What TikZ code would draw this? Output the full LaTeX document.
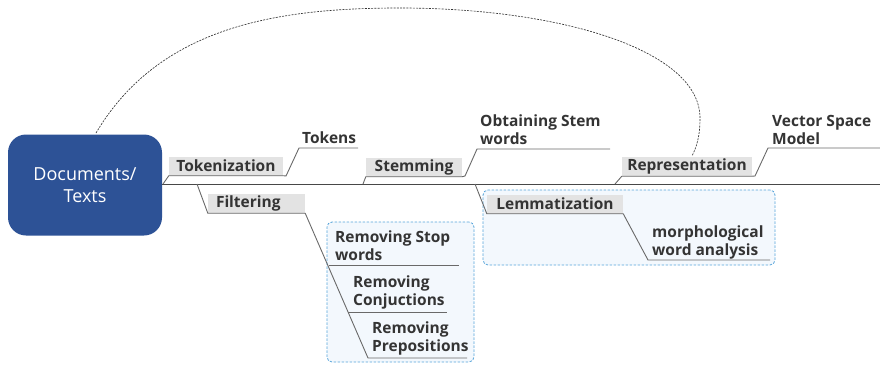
\documentclass[tikz,border=0pt]{standalone}
\usepackage{fontspec}
\setmainfont{Open Sans}
\definecolor{ink}{RGB}{52,52,52}
\definecolor{rootblue}{RGB}{45,82,150}
\definecolor{tagfill}{RGB}{227,227,227}
\definecolor{linegray}{RGB}{105,105,105}
\definecolor{grpblue}{RGB}{86,164,218}
\definecolor{grpfill}{RGB}{243,248,253}
\begin{document}
\begin{tikzpicture}[x=1pt,y=-1pt,
  lbl/.style={font=\fontsize{15.5}{18}\selectfont\bfseries, text=ink, inner sep=0pt, anchor=base west},
  tag/.style={fill=tagfill, font=\fontsize{15.5}{18}\selectfont\bfseries, text=ink,
              inner sep=0pt, minimum height=19pt},
  branch/.style={draw=linegray, line width=0.9pt},
  mainline/.style={draw=ink!90, line width=1pt},
  grp/.style={draw=grpblue, fill=grpfill, dashed, dash pattern=on 2.5pt off 1.5pt,
              rounded corners=5pt, line width=0.8pt, inner sep=0pt},
  rootbox/.style={fill=rootblue, rounded corners=18pt, text=white, align=center,
              font=\fontsize{18}{22}\selectfont, inner sep=0pt,
              minimum width=154pt, minimum height=101pt},
  relation/.style={draw=ink, line width=0.65pt, dash pattern=on 2pt off 1.2pt}]
\useasboundingbox (0,0) rectangle (880,365);

% dashed group frames
\node[grp, minimum width=147pt, minimum height=140pt] (fgrp) at (400.5,292) {};
\node[grp, minimum width=292pt, minimum height=75pt] (lgrp) at (629,227.5) {};

% central topic
\node[rootbox] (docs) at (85,185) {Documents/\\Texts};

% main spine
\coordinate (spineR) at (880,184);
\draw[mainline] (docs.east |- spineR) -- (spineR);

% branch labels
\node[tag, minimum width=114pt] (tok)  at (226,166)   {Tokenization};
\node[tag, text width=81pt, inner xsep=8pt, align=left] (filt) at (256.5,203.5) {Filtering};
\node[tag, minimum width=96pt]  (stem) at (414,167)   {Stemming};
\node[tag, minimum width=136pt] (lem)  at (555,204)   {Lemmatization};
\node[tag, minimum width=130pt] (rep)  at (687,166.5) {Representation};

% leaf texts
\node[lbl] (tokens) at (302,143) {Tokens};
\node[lbl] (obt1) at (480,126) {Obtaining Stem};
\node[lbl] (obt2) at (480,144) {words};
\node[lbl] (vsm1) at (772,126) {Vector Space};
\node[lbl] (vsm2) at (772,144) {Model};
\node[lbl] (rsw1) at (335,242) {Removing Stop};
\node[lbl] (rsw2) at (335,260) {words};
\node[lbl] (rc1)  at (353,287) {Removing};
\node[lbl] (rc2)  at (353,305) {Conjuctions};
\node[lbl] (rp1)  at (372,333) {Removing};
\node[lbl] (rp2)  at (372,351) {Prepositions};
\node[lbl] (mw1)  at (652,237) {morphological};
\node[lbl] (mw2)  at (652,255) {word analysis};

% Tokenization -> Tokens
\coordinate (tokA) at (163,184);
\coordinate (tokB) at (286,176);
\coordinate (tokC) at (299,148);
\coordinate (tokD) at (358,148);
\draw[branch] (tokA) -- (tok.south west) -- (tok.south east) -- (tokB) -- (tokC) -- (tokD);

% Filtering -> three removal steps
\coordinate (filA) at (197,184);
\coordinate (filC) at (368,358);
\coordinate (swS)  at (328.7,265);
\coordinate (swE)  at (459,265);
\coordinate (cjS)  at (348,312);
\coordinate (cjE)  at (447,312);
\coordinate (ppE)  at (467,358);
\draw[branch] (filA) -- (filt.south west) -- (filt.south east) -- (filC) -- (ppE);
\draw[branch] (swS) -- (swE);
\draw[branch] (cjS) -- (cjE);

% Stemming -> Obtaining Stem words
\coordinate (stA) at (363,184);
\coordinate (stB) at (465,176);
\coordinate (stC) at (477,149);
\coordinate (stD) at (610,149);
\draw[branch] (stA) -- (stem.south west) -- (stem.south east) -- (stB) -- (stC) -- (stD);

% Lemmatization -> morphological word analysis
\coordinate (lmA) at (475,184);
\coordinate (lmB) at (648,260);
\coordinate (lmC) at (770,260);
\draw[branch] (lmA) -- (lem.south west) -- (lem.south east) -- (lmB) -- (lmC);

% Representation -> Vector Space Model
\coordinate (rpA) at (615,184);
\coordinate (rpB) at (755,176);
\coordinate (rpC) at (768,148);
\coordinate (rpD) at (880,148);
\draw[branch] (rpA) -- (rep.south west) -- (rep.south east) -- (rpB) -- (rpC) -- (rpD);

% relationship from the documents back to the representation
\coordinate (relS) at (96,133);
\coordinate (relE) at (692,156);
\draw[relation] (relS) .. controls (160,25) and (280,8) .. (400,8)
  .. controls (560,8) and (700,50) .. (700,118)
  .. controls (700,138) and (696,148) .. (relE);
\end{tikzpicture}
\end{document}
